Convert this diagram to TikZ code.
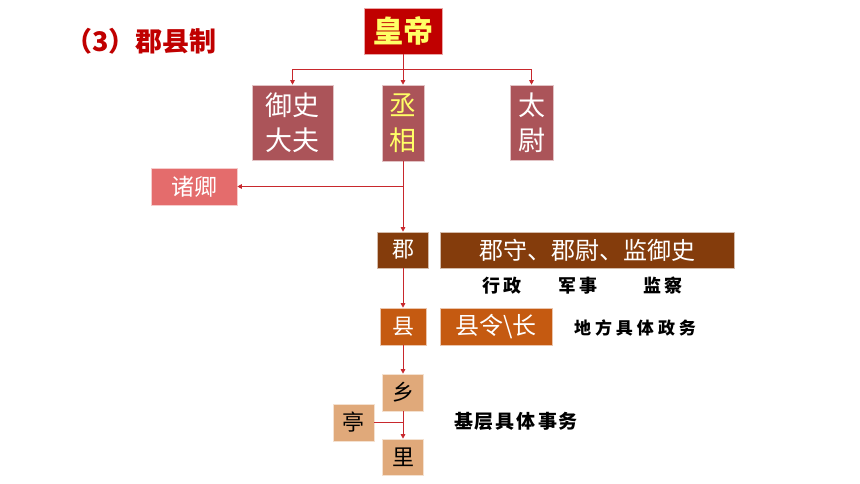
\documentclass[tikz,border=0pt]{standalone}
\usepackage{fontspec}
\setmainfont{Noto Sans CJK SC}
\usetikzlibrary{arrows.meta}
\definecolor{hdred}{HTML}{C00000}
\definecolor{mauve}{HTML}{AB5459}
\definecolor{pinkred}{HTML}{E46C6C}
\definecolor{brown}{HTML}{843C0C}
\definecolor{orng}{HTML}{C55A11}
\definecolor{tan}{HTML}{E0A97A}
\definecolor{linec}{HTML}{C8282D}
\definecolor{yel}{HTML}{FFFF66}
\tikzset{
  box/.style={draw=white!65!#1, line width=0.6pt, fill=#1, inner sep=0pt, align=center},
  conn/.style={draw=linec, line width=0.9pt},
  arr/.style={conn, -{Triangle[length=4.5pt,width=4.5pt]}},
  note/.style={font=\fontsize{18}{20}\selectfont\bfseries, text=black}
}
\begin{document}
\begin{tikzpicture}[x=1pt,y=-1pt]
\useasboundingbox (0,0) rectangle (860,484);
\fill[white] (0,0) rectangle (860,484);
% title
\node[font=\fontsize{27}{30}\selectfont\bfseries, text=hdred] (title) at (141,41) {（3）郡县制};
% top
\node[box=hdred, minimum width=78pt, minimum height=46pt, text=yel, font=\fontsize{30}{34}\selectfont\bfseries] (hd) at (403,31) {皇帝};
\node[box=mauve, minimum width=81pt, minimum height=75pt, text=white, font=\fontsize{27}{35}\selectfont] (ys) at (292.5,122.5) {御史\\大夫};
\node[box=mauve, minimum width=42pt, minimum height=76pt, text=yel, font=\fontsize{27}{35}\selectfont] (cx) at (403,123) {丞\\相};
\node[box=mauve, minimum width=43pt, minimum height=75pt, text=white, font=\fontsize{27}{35}\selectfont] (tw) at (531.5,122.5) {太\\尉};
\node[box=pinkred, minimum width=86pt, minimum height=37pt, text=white, font=\fontsize{23}{26}\selectfont] (zq) at (194,186.5) {诸卿};
% jun
\node[box=brown, minimum width=51pt, minimum height=36pt, text=white, font=\fontsize{22}{26}\selectfont] (jun) at (403,250) {郡};
\node[box=brown, minimum width=294pt, minimum height=36pt, text=white, font=\fontsize{24}{26}\selectfont] (jsh) at (587,250) {郡守、郡尉、监御史};
\node[note] (xz) at (502,286) {行\kern3pt 政};
\node[note] (js) at (578,286) {军\kern3pt 事};
\node[note] (jc) at (663,286) {监\kern3pt 察};
% xian
\node[box=orng, minimum width=46pt, minimum height=37pt, text=white, font=\fontsize{22}{26}\selectfont] (xian) at (403,326.5) {县};
\node[box=orng, minimum width=112pt, minimum height=37pt, text=white, font=\fontsize{24}{26}\selectfont] (xl) at (496,326.5) {县令\textbackslash 长};
\node[note, font=\fontsize{17}{20}\selectfont\bfseries] (dfzw) at (635,328) {地\kern4pt 方\kern4pt 具\kern4pt 体\kern4pt 政\kern4pt 务};
% lower
\node[box=tan, minimum width=41pt, minimum height=37pt, text=black, font=\fontsize{22}{26}\selectfont] (xiang) at (403,392.5) {乡};
\node[box=tan, minimum width=41pt, minimum height=37pt, text=black, font=\fontsize{22}{26}\selectfont] (ting) at (353.5,422.5) {亭};
\node[box=tan, minimum width=41pt, minimum height=36pt, text=black, font=\fontsize{22}{26}\selectfont] (li) at (403,457) {里};
\node[note, font=\fontsize{19}{20}\selectfont\bfseries] (jc2) at (516,421) {基\kern2pt 层\kern2pt 具\kern2pt 体\kern2pt 事\kern2pt 务};
% connectors
\draw[conn] (hd.south) -- ++(0,15) coordinate (j1);
\draw[arr] (j1) -| (ys.north);
\draw[arr] (j1) -| (tw.north);
\draw[arr] (hd.south) -- (cx.north);
\draw[arr] (cx.south) -- (jun.north);
\coordinate (j2) at (cx.south |- zq.east);
\draw[arr] (j2) -- (zq.east);
\draw[arr] (jun.south) -- (xian.north);
\draw[arr] (xian.south) -- (xiang.north);
\draw[arr] (xiang.south) -- (li.north);
\coordinate (j3) at (xiang.south |- ting.east);
\draw[conn] (ting.east) -- (j3);
\end{tikzpicture}
\end{document}
